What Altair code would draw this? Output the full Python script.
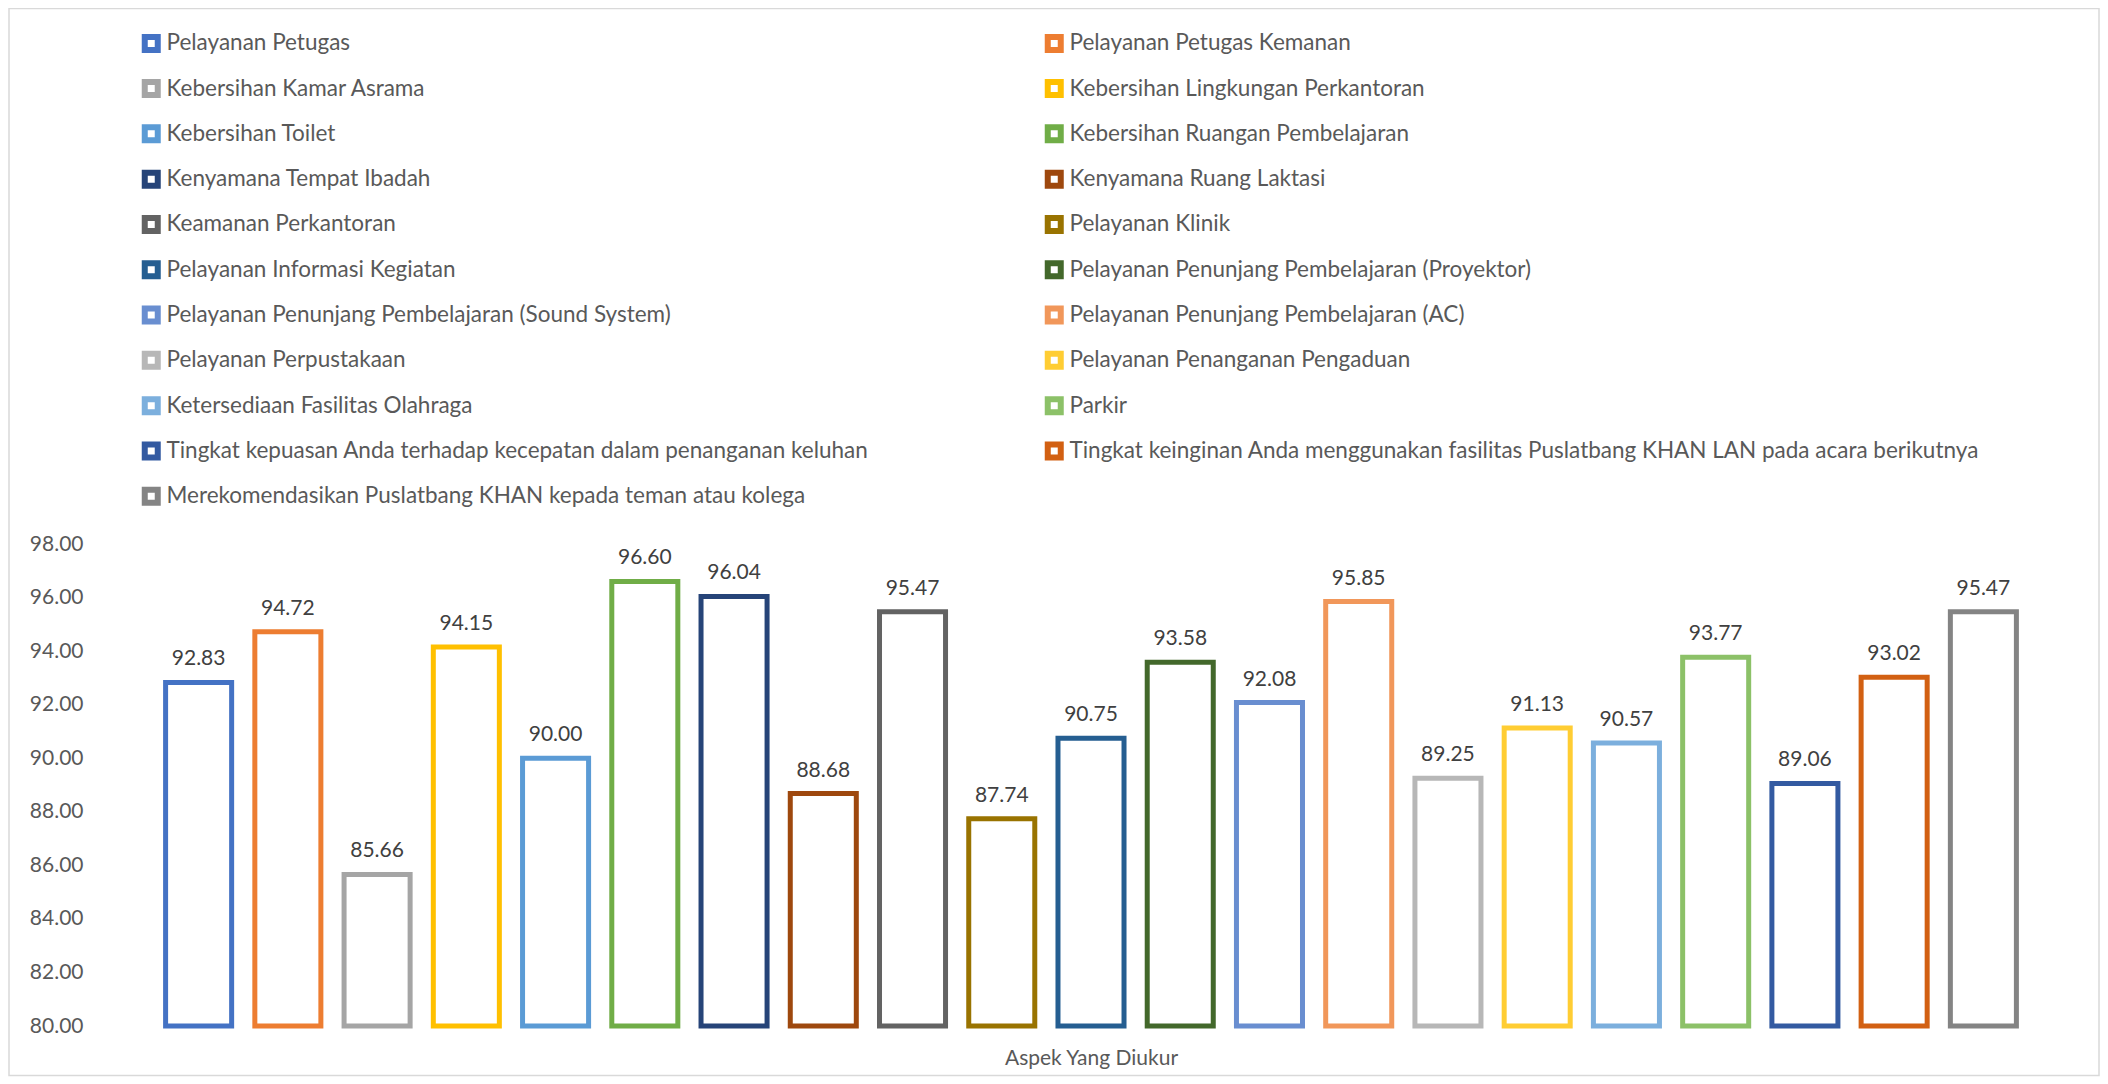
import altair as alt
import pandas as pd

categories = [
    "Pelayanan Petugas",
    "Pelayanan Petugas Kemanan",
    "Kebersihan Kamar Asrama",
    "Kebersihan Lingkungan Perkantoran",
    "Kebersihan Toilet",
    "Kebersihan Ruangan Pembelajaran",
    "Kenyamana Tempat Ibadah",
    "Kenyamana Ruang Laktasi",
    "Keamanan Perkantoran",
    "Pelayanan Klinik",
    "Pelayanan Informasi Kegiatan",
    "Pelayanan Penunjang Pembelajaran (Proyektor)",
    "Pelayanan Penunjang Pembelajaran (Sound System)",
    "Pelayanan Penunjang Pembelajaran (AC)",
    "Pelayanan Perpustakaan",
    "Pelayanan Penanganan Pengaduan",
    "Ketersediaan Fasilitas Olahraga",
    "Parkir",
    "Tingkat kepuasan Anda terhadap kecepatan dalam penanganan keluhan",
    "Tingkat keinginan Anda menggunakan fasilitas Puslatbang KHAN LAN pada acara berikutnya",
    "Merekomendasikan Puslatbang KHAN kepada teman atau kolega",
]
values = [92.83, 94.72, 85.66, 94.15, 90.00, 96.60, 96.04, 88.68, 95.47, 87.74,
          90.75, 93.58, 92.08, 95.85, 89.25, 91.13, 90.57, 93.77, 89.06, 93.02, 95.47]
colors = ["#4472C4", "#ED7D31", "#A5A5A5", "#FFC000", "#5B9BD5", "#70AD47",
          "#264478", "#9E480E", "#636363", "#997300", "#255E91", "#43682B",
          "#698ED0", "#F1975A", "#B7B7B7", "#FFCD33", "#7CAFDD", "#8CC168",
          "#335AA1", "#D26012", "#848484"]
y_ticks = [80, 82, 84, 86, 88, 90, 92, 94, 96, 98]

df = pd.DataFrame({"Aspek": categories, "Nilai": values})

# The legend fills its columns top to bottom; order the colour domain so the
# entries read row by row (left, right), as in the reference.
legend_order = categories[0::2] + categories[1::2]
legend_colors = colors[0::2] + colors[1::2]

FONT = "Lato"
FS = 21
LFS = 22.5
W, H = 1874, 482

x_enc = alt.X("Aspek:N", sort=categories,
              scale=alt.Scale(paddingInner=0.26, paddingOuter=0.13),
              axis=alt.Axis(labels=False, ticks=False, domain=False,
                            title="Aspek Yang Diukur", titleFont=FONT,
                            titleFontSize=FS, titleFontWeight="normal",
                            titleColor="#595959", titleBaseline="alphabetic",
                            titlePadding=38))
y_enc = alt.Y("Nilai:Q",
              scale=alt.Scale(domain=[80, 98], zero=False, nice=False),
              axis=alt.Axis(values=y_ticks, format=".2f", title=None,
                            ticks=False, domain=False, grid=False,
                            labelFont=FONT, labelFontSize=FS,
                            labelColor="#595959", labelPadding=71))

bars = alt.Chart(df).mark_bar(fill="white", strokeWidth=5, strokeJoin="miter").encode(
    x=x_enc,
    y=y_enc,
    y2=alt.datum(80),
    stroke=alt.Stroke("Aspek:N",
                      scale=alt.Scale(domain=legend_order, range=legend_colors),
                      legend=alt.Legend(
                          title=None, orient="none", legendX=-14, legendY=-512,
                          columns=2, gridAlign="each", columnPadding=166,
                          rowPadding=7.3, padding=0,
                          symbolType="square", symbolSize=169,
                          symbolStrokeWidth=6, symbolFillColor="white",
                          symbolOffset=0, labelOffset=4,
                          labelFont=FONT, labelFontSize=LFS,
                          labelColor="#595959", labelLimit=1500)),
)

labels = alt.Chart(df).mark_text(
    baseline="alphabetic", dy=-17, font=FONT, fontSize=FS, color="#404040"
).encode(
    x=alt.X("Aspek:N", sort=categories),
    y="Nilai:Q",
    text=alt.Text("Nilai:Q", format=".2f"),
)

frame = alt.Chart(pd.DataFrame({"k": [0]})).mark_rect(
    filled=False, stroke="#D9D9D9", strokeWidth=1.5
).encode(
    x=alt.value(-145), x2=alt.value(1945),
    y=alt.value(-535.5), y2=alt.value(531.5),
)

chart = alt.layer(frame, bars, labels).properties(
    width=W, height=H,
    background="white",
    autosize=alt.AutoSizeParams(type="none"),
    padding={"left": 146, "top": 536, "right": 72, "bottom": 52},
).configure_view(strokeWidth=0, stroke="transparent")

chart.save("out.html", embed_options={"renderer": "svg", "actions": False})
